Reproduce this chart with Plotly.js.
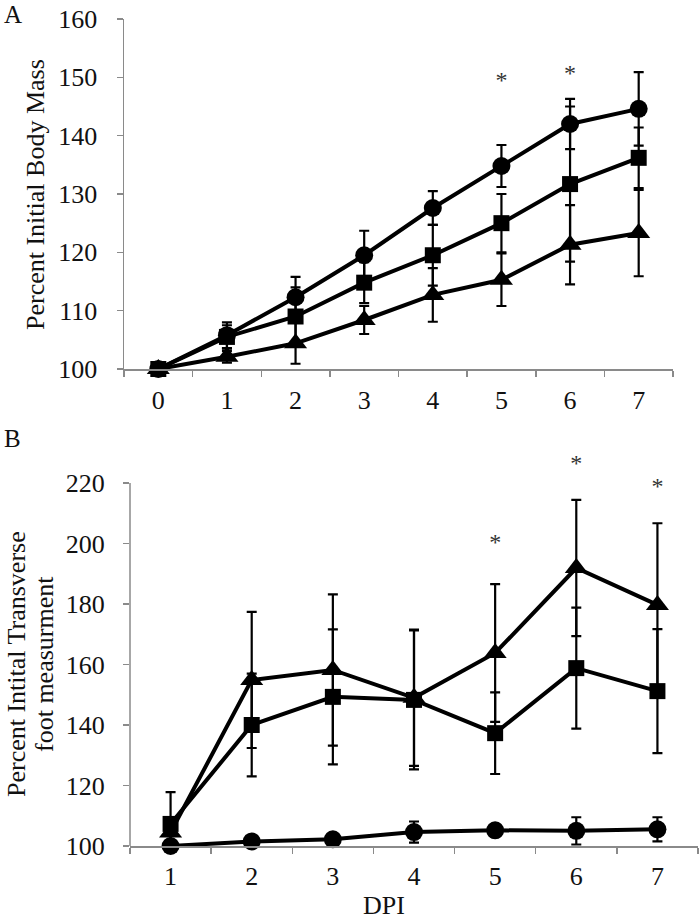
<!DOCTYPE html>
<html>
<head>
<meta charset="utf-8">
<script src="https://cdn.plot.ly/plotly-3.0.1.min.js"></script>
<style>html,body{margin:0;padding:0;background:#fff;}#chart{width:700px;height:921px;}</style>
</head>
<body>
<div id="chart"></div>
<script>
// Panel A: percent initial body mass
const dpiA = ['0','1','2','3','4','5','6','7'];
const massCircle = [100, 105.8, 112.3, 119.5, 127.6, 134.8, 142.0, 144.6];
const massCircleErr = [0, 2.2, 3.5, 4.2, 2.9, 3.6, 4.3, 6.3];
const massSquare = [100, 105.5, 109.0, 114.8, 119.5, 125.0, 131.7, 136.2];
const massSquareErr = [0, 2.0, 5.0, 3.5, 5.2, 5.0, 13.3, 5.2];
const massTriangle = [100, 102.1, 104.4, 108.4, 112.7, 115.3, 121.3, 123.3];
const massTriangleErr = [0, 1.0, 3.5, 2.4, 4.6, 4.5, 6.8, 7.4];
const starsA_x = ['5','6'];
const starsA_y = [149.2, 150.4];
const ticksA = [100, 110, 120, 130, 140, 150, 160];

// Panel B: percent initial transverse foot measurement
const dpiB = ['1','2','3','4','5','6','7'];
const footTriangle = [104.5, 154.9, 158.2, 149.0, 163.8, 191.9, 179.7];
const footTriangleErr = [3, 22.5, 25, 22.5, 22.8, 22.5, 27];
const footSquare = [107.3, 140.0, 149.3, 148.3, 137.3, 158.8, 151.2];
const footSquareErr = [10.5, 17, 22.3, 23, 13.5, 20, 20.5];
const footCircle = [100, 101.5, 102.2, 104.6, 105.2, 105.0, 105.5];
const footCircleErr = [0.5, 1, 1, 3.5, 2, 4.5, 4];
const starsB_x = ['5','6','7'];
const starsB_y = [199.8, 225.8, 218.3];
const ticksB = [100, 120, 140, 160, 180, 200, 220];

const FONT = 'Liberation Serif';
const W = 700, H = 921;
const AXIS_GREY = '#8a8a8a';

function series(x, y, err, symbol, size, xa, ya) {
  return {
    x: x, y: y, type: 'scatter', mode: 'lines+markers',
    xaxis: xa, yaxis: ya,
    line: {color: '#000', width: 4},
    marker: {symbol: symbol, size: size, color: '#000'},
    error_y: {type: 'data', array: err, visible: true, color: '#000', thickness: 2.2, width: 5},
    cliponaxis: false, showlegend: false, hoverinfo: 'skip'
  };
}

function stars(x, y, xa, ya) {
  return {
    x: x, y: y, type: 'scatter', mode: 'text', text: x.map(() => '*'),
    textposition: 'middle center', textfont: {family: FONT, size: 24, color: '#333'},
    xaxis: xa, yaxis: ya, cliponaxis: false, showlegend: false, hoverinfo: 'skip'
  };
}

const data = [
  series(dpiA, massTriangle, massTriangleErr, 'triangle-up', 20, 'x', 'y'),
  series(dpiA, massSquare, massSquareErr, 'square', 16, 'x', 'y'),
  series(dpiA, massCircle, massCircleErr, 'circle', 18, 'x', 'y'),
  stars(starsA_x, starsA_y, 'x', 'y'),
  series(dpiB, footCircle, footCircleErr, 'circle', 18, 'x2', 'y2'),
  series(dpiB, footSquare, footSquareErr, 'square', 16, 'x2', 'y2'),
  series(dpiB, footTriangle, footTriangleErr, 'triangle-up', 20, 'x2', 'y2'),
  stars(starsB_x, starsB_y, 'x2', 'y2')
];

const axisCommon = {
  showgrid: false, zeroline: false, showline: true, linecolor: AXIS_GREY, linewidth: 1.5,
  ticks: 'outside', ticklen: 6, tickcolor: AXIS_GREY, tickwidth: 1.5,
  tickfont: {family: FONT, size: 26, color: '#111'}, fixedrange: true
};

const px = v => v / W;
const py = v => 1 - v / H;

const txt = (size) => ({family: FONT, size: size, color: '#111'});
const annotations = [
  {xref: 'paper', yref: 'paper', x: px(3), y: 1, xanchor: 'left', yanchor: 'top', text: 'A', showarrow: false, font: txt(25), borderpad: 0},
  {xref: 'paper', yref: 'paper', x: px(3), y: py(424), xanchor: 'left', yanchor: 'top', text: 'B', showarrow: false, font: txt(25), borderpad: 0},
  {xref: 'paper', yref: 'paper', x: px(36), y: py(195), xanchor: 'center', yanchor: 'middle', textangle: -90, text: 'Percent Initial Body Mass', showarrow: false, font: txt(26)},
  {xref: 'paper', yref: 'paper', x: px(16), y: py(664), xanchor: 'center', yanchor: 'middle', textangle: -90, text: 'Percent Intital Transverse', showarrow: false, font: txt(26), borderpad: 0},
  {xref: 'paper', yref: 'paper', x: px(44), y: py(664), xanchor: 'center', yanchor: 'middle', textangle: -90, text: 'foot measurment', showarrow: false, font: txt(26), borderpad: 0},
  {xref: 'paper', yref: 'paper', x: px(384), y: 0, xanchor: 'center', yanchor: 'bottom', text: 'DPI', showarrow: false, font: txt(26), borderpad: 0}
];

// Panel B's value axis reaches 220, but the top asterisk sits above it:
// extend the scale a little and draw the visible axis line only up to the last tick.
const shapes = [
  {type: 'line', xref: 'x2 domain', yref: 'y2', x0: 0, x1: 0, y0: ticksB[0], y1: ticksB[ticksB.length - 1],
   line: {color: AXIS_GREY, width: 1.5}}
];

const layout = {
  width: W, height: H,
  margin: {l: 0, r: 0, t: 0, b: 0},
  paper_bgcolor: '#fff', plot_bgcolor: '#fff',
  showlegend: false,
  xaxis: Object.assign({}, axisCommon, {type: 'category', domain: [px(124), px(673)], range: [-0.5, 7.5], tickson: 'boundaries', anchor: 'y', ticklabelstandoff: 7}),
  yaxis: Object.assign({}, axisCommon, {domain: [py(369), py(19)], range: [100, 160], tickvals: ticksA, anchor: 'x', ticklabelstandoff: 14}),
  xaxis2: Object.assign({}, axisCommon, {type: 'category', domain: [px(130), px(698)], range: [-0.5, 6.5], tickson: 'boundaries', anchor: 'y2', ticklabelstandoff: 6}),
  yaxis2: Object.assign({}, axisCommon, {domain: [py(846), py(483 - 10 * 3.025)], range: [100, 230], tickvals: ticksB, showline: false, anchor: 'x2', ticklabelstandoff: 13}),
  shapes: shapes,
  annotations: annotations
};

Plotly.newPlot('chart', data, layout, {staticPlot: true});
</script>
</body>
</html>
